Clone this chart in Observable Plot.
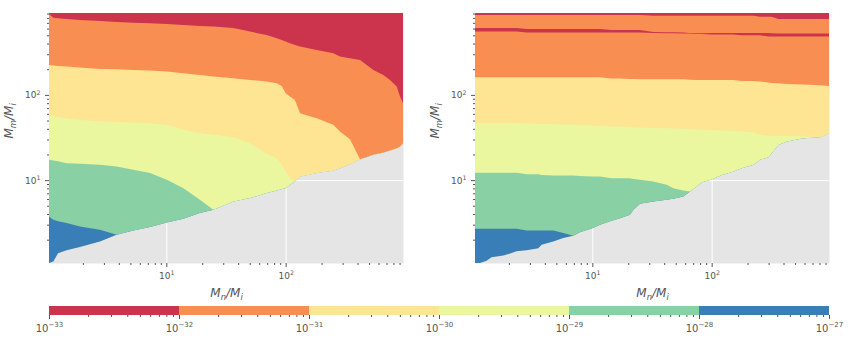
<!DOCTYPE html>
<html><head><meta charset="utf-8">
<script src="https://cdn.jsdelivr.net/npm/d3@7"></script>
<script src="https://cdn.jsdelivr.net/npm/@observablehq/plot@0.6"></script>
<style>
body{margin:0;background:#fff;}
#wrap{position:relative;width:848px;height:349px;overflow:hidden;font-family:"DejaVu Sans",sans-serif;}
#wrap svg{position:absolute;}
</style></head><body><div id="wrap"></div>
<script>
// ---- colour levels (log10 of the plotted quantity) ----
const levelEdges = [1e-33, 1e-32, 1e-31, 1e-30, 1e-29, 1e-28, 1e-27];
const levelColors = ["#cc344d", "#f98e52", "#fee594", "#eaf79f", "#89d0a5", "#3a7eb8"];

// ---- shared axis domains ----
const xDomain = [1.04, 962];
const yDomain = [1.065, 914];
const majorTicks = [10, 100];

// ---- left panel: sample positions (Mn/Mi) and the lower edge (Mm/Mi) of each coloured band ----
const leftX = [1.04, 1.13, 1.24, 1.46, 1.89, 2.78, 3.84, 5.29, 7.30, 10.1, 13.9, 19.1, 24.8, 36.4, 50.2, 69.3, 84.1, 92.6, 100, 108.7, 119.7, 131.9, 181.9, 250.8, 285.3, 346.0, 419.8, 542.9, 658.2, 748.7, 851.5, 908, 962];
const leftFloor = [1.065, 1.11, 1.39, 1.50, 1.64, 1.91, 2.28, 2.57, 2.81, 3.19, 3.52, 4.10, 4.49, 5.62, 6.15, 7.04, 7.56, 7.84, 8.05, 8.81, 9.64, 11.0, 12.1, 13.0, 13.8, 15.4, 17.6, 19.8, 21.1, 22.3, 23.7, 24.8, 27.1];
const leftGreenLow = [3.75, 3.42, 3.30, 3.13, 2.86, 2.61];
const leftLightLow = [17.3, 17.0, 16.6, 15.8, 15.6, 15.1, 14.4, 13.2, 12.1, 10.1, 8.0, 5.87];
const leftYellowLow = [57.3, 55.7, 54.7, 53.3, 50.9, 48.7, 47.8, 47.4, 46.6, 44.5, 38.9, 35.5, 34.0, 31.9, 27.1, 20.3, 18.1, 15.1, 12.6, 10.5];
const leftOrangeLow = [224.8, 220.8, 219, 214.9, 209.1, 201.8, 200, 196.4, 192.9, 187.7, 179.5, 171.6, 164.0, 156.8, 149.9, 143.3, 137.0, 127.5, 104.6, 95.6, 87.4, 61.0, 53.3, 44.5, 37.2, 30.2];
const leftRedLow = [890.6, 806.5, 792, 778, 757.3, 737.2, 717.6, 704.7, 692.2, 679.8, 661.7, 644.2, 632.6, 610.3, 552.6, 505.1, 461.7, 441.4, 422.0, 403.4, 385.7, 368.7, 337.0, 308, 281.4, 269.1, 257.2, 196.4, 171.6, 149.9, 125.3, 95.6, 79.9];

// ---- right panel ----
const rightX = [1.04, 1.145, 1.30, 1.43, 1.80, 2.32, 2.82, 3.53, 3.76, 4.71, 5.71, 6.93, 7.88, 10, 11.6, 14.5, 17.1, 20.7, 22.1, 25.1, 32.4, 42.0, 47.7, 57.9, 65.8, 74.9, 82.5, 100, 121.3, 151.9, 178.4, 223.5, 254.1, 298.5, 318.3, 362.1, 425.1, 586.5, 808.6, 962];
const rightFloor = [1.065, 1.065, 1.13, 1.24, 1.30, 1.46, 1.50, 1.59, 1.74, 1.91, 2.09, 2.22, 2.45, 2.73, 2.99, 3.33, 3.58, 3.92, 4.49, 5.28, 5.62, 5.87, 6.05, 6.43, 7.36, 8.42, 9.47, 10.2, 11.5, 12.6, 13.8, 15.1, 17.3, 18.6, 20.7, 25.9, 28.4, 31.0, 31.9, 35.5];
const rightGreenLow = [2.69, 2.69, 2.69, 2.69, 2.69, 2.69, 2.57, 2.57, 2.57, 2.57, 2.39];
const rightLightLow = [12.2, 12.2, 12.2, 12.2, 12.2, 12.2, 11.7, 11.7, 11.5, 11.3, 11.3, 11.3, 11.2, 11.0, 11.0, 10.5, 10.5, 10.5, 10.3, 10.1, 9.64, 8.81, 8.05, 7.56];
const rightYellowLow = [46.6, 46.6, 46.6, 46.6, 46.6, 46.6, 46.1, 45.7, 45.7, 45.3, 45.0, 44.5, 44.2, 43.7, 43.3, 42.5, 42.2, 41.9, 41.8, 41.5, 41.0, 40.5, 40.3, 40.0, 39.6, 39.2, 38.9, 38.5, 38.2, 37.6, 37.2, 36.2, 34.0, 33.1, 33.1, 33.1, 33.1, 32.5];
const rightOrangeLow = [161.1, 161.1, 161.1, 161.1, 161.1, 161.1, 161.1, 161.1, 161.1, 161.1, 161.1, 161.1, 161.1, 161.1, 161, 155.4, 155.4, 154, 154, 153, 152.6, 152.6, 152.6, 152.6, 151, 150, 149.9, 149.9, 149.9, 149.9, 145.9, 145.9, 143.3, 139.5, 138, 137, 134.6, 132.2, 129.8, 127.5];
const rightRedBandLow = [552.6, 552.6, 552.6, 552.6, 552.6, 552.6, 538.0, 538.0, 538.0, 538.0, 538.0, 538.0, 538.0, 538.0, 538.0, 538.0, 538.0, 538.0, 538.0, 538.0, 533.2, 528.4, 528.4, 523.6, 523.6, 518.9, 518.9, 509.7, 509.7, 509.7, 500.6, 500.6, 500.6, 483.0, 483.0, 483.0, 483.0, 483.0, 483.0, 483.0];
const rightRedBandHigh = [610.3, 610.3, 610.3, 610.3, 610.3, 610.3, 594.0, 594.0, 594.0, 594.0, 594.0, 594.0, 594.0, 594.0, 594.0, 578.1, 578.1, 578.1, 578.1, 578.1, 547.7, 542.8, 542.8, 538.0, 533.2, 528.4, 528.4, 533.2, 533.2, 533.2, 533.2, 533.2, 533.2, 533.2, 528.4, 523.6, 523.6, 523.6, 523.6, 523.6];
const rightRedTopLow = [866.9, 866.9, 866.9, 866.9, 866.9, 866.9, 866.9, 866.9, 866.9, 866.9, 866.9, 866.9, 866.9, 866.9, 866.9, 866.9, 866.9, 866.9, 866.9, 866.9, 851.3, 851.3, 851.3, 851.3, 851.3, 851.3, 851.3, 851.3, 851.3, 851.3, 851.3, 851.3, 828.5, 828.5, 828.5, 778.0, 778.0, 778.0, 778.0, 778.0];

// ---- labels ("_" marks a subscript, "^" a superscript) ----
const xLabel = "M_n/M_i";
const yLabel = "M_m/M_i";

function pow10Label(v) {
  return "10^" + Math.round(Math.log10(v));
}
function minorTicks(lo, hi) {
  const t = [];
  for (let e = Math.floor(Math.log10(lo)); e <= Math.ceil(Math.log10(hi)); e++)
    for (let m = 2; m <= 9; m++) { const v = m * Math.pow(10, e); if (v >= lo && v <= hi) t.push(v); }
  return t;
}
// turn "_x" / "^x" markers into real sub/superscript tspans
function richText(svg, fs) {
  svg.querySelectorAll("text").forEach(t => {
    const s = t.textContent;
    if (!/[_^]/.test(s)) return;
    const size = parseFloat(t.getAttribute("font-size") || (t.parentNode && t.parentNode.getAttribute && t.parentNode.getAttribute("font-size"))) || fs;
    while (t.firstChild) t.removeChild(t.firstChild);
    let cur = 0;
    const re = /([_^])([\-0-9a-z]+)|([^_^]+)/g;
    let m;
    while ((m = re.exec(s))) {
      const sp = document.createElementNS("http://www.w3.org/2000/svg", "tspan");
      let target, txt;
      if (m[3] !== undefined) { target = 0; txt = m[3]; }
      else {
        target = m[1] === "^" ? -0.42 * size : 0.25 * size;
        txt = m[2].replace("-", "\u2212");
        sp.setAttribute("font-size", (0.7 * size).toFixed(2));
      }
      if (target !== cur) sp.setAttribute("dy", (target - cur).toFixed(2));
      cur = target;
      sp.textContent = txt;
      t.appendChild(sp);
    }
  });
}

const ink = "#555555";

function panel(xs, floor, layers, marginLeft, marginRight) {
  const marks = [
    Plot.frame({fill: "#e5e5e5", stroke: null}),
    Plot.gridX(majorTicks, {stroke: "white", strokeOpacity: 1, strokeWidth: 1}),
    Plot.gridY(majorTicks, {stroke: "white", strokeOpacity: 1, strokeWidth: 1})
  ];
  for (const {level, low} of layers) {
    const rows = xs.map((x, i) => {
      const b = low[i] == null ? floor[i] : Math.max(low[i], floor[i]);
      return {x, y1: b, y2: yDomain[1]};
    });
    marks.push(Plot.areaY(rows, {x: "x", y1: "y1", y2: "y2", fill: levelColors[level], curve: "linear"}));
  }
  marks.push(
    Plot.axisX(majorTicks, {tickSize: 4, tickPadding: 5, tickFormat: pow10Label, stroke: ink, fill: ink}),
    Plot.axisX(minorTicks(xDomain[0], xDomain[1]), {tickSize: 2, tickFormat: () => "", stroke: ink}),
    Plot.axisY(majorTicks, {tickSize: 4, tickPadding: 5, tickFormat: pow10Label, stroke: ink, fill: ink}),
    Plot.axisY(minorTicks(yDomain[0], yDomain[1]), {tickSize: 2, tickFormat: () => "", stroke: ink}),
    Plot.text([xLabel], {text: d => d, frameAnchor: "bottom", dy: 33, fontSize: 12, fontStyle: "italic", fill: ink}),
    Plot.text([yLabel], {text: d => d, frameAnchor: "left", dx: -40, rotate: -90, fontSize: 12, fontStyle: "italic", fill: ink})
  );
  const svg = Plot.plot({
    width: 424, height: 305,
    marginTop: 13, marginBottom: 42, marginLeft, marginRight,
    x: {type: "log", domain: xDomain, label: null},
    y: {type: "log", domain: yDomain, label: null},
    style: {fontFamily: "DejaVu Sans, sans-serif", fontSize: "9px", color: ink, background: "transparent"},
    marks
  });
  richText(svg, 9);
  return svg;
}

const wrap = document.getElementById("wrap");

const left = panel(leftX, leftFloor, [
  {level: 5, low: []},
  {level: 4, low: leftGreenLow},
  {level: 3, low: leftLightLow},
  {level: 2, low: leftYellowLow},
  {level: 1, low: leftOrangeLow},
  {level: 0, low: leftRedLow}
], 49, 21);
left.style.left = "0px"; left.style.top = "0px";
wrap.appendChild(left);

const right = panel(rightX, rightFloor, [
  {level: 5, low: []},
  {level: 4, low: rightGreenLow},
  {level: 3, low: rightLightLow},
  {level: 2, low: rightYellowLow},
  {level: 1, low: rightOrangeLow},
  {level: 0, low: rightRedBandLow},
  {level: 1, low: rightRedBandHigh},
  {level: 0, low: rightRedTopLow}
], 51, 19);
right.style.left = "424px"; right.style.top = "0px";
wrap.appendChild(right);

// ---- colour bar ----
const cbRows = levelColors.map((c, i) => ({x1: levelEdges[i], x2: levelEdges[i + 1], c}));
const cb = Plot.plot({
  width: 848, height: 49,
  marginTop: 6, marginBottom: 34, marginLeft: 49, marginRight: 19,
  x: {type: "log", domain: [levelEdges[0], levelEdges[levelEdges.length - 1]], label: null},
  color: {type: "identity"},
  style: {fontFamily: "DejaVu Sans, sans-serif", fontSize: "10px", color: ink, background: "transparent"},
  marks: [
    Plot.rect(cbRows, {x1: "x1", x2: "x2", fill: "c"}),
    Plot.axisX(levelEdges, {tickSize: 4, tickPadding: 5, tickFormat: pow10Label, stroke: ink, fill: ink}),
    Plot.axisX(minorTicks(levelEdges[0], levelEdges[levelEdges.length - 1]), {tickSize: 2, tickFormat: () => "", stroke: ink})
  ]
});
richText(cb, 10);
cb.style.left = "0px"; cb.style.top = "300px";
wrap.appendChild(cb);
</script>
</body></html>
